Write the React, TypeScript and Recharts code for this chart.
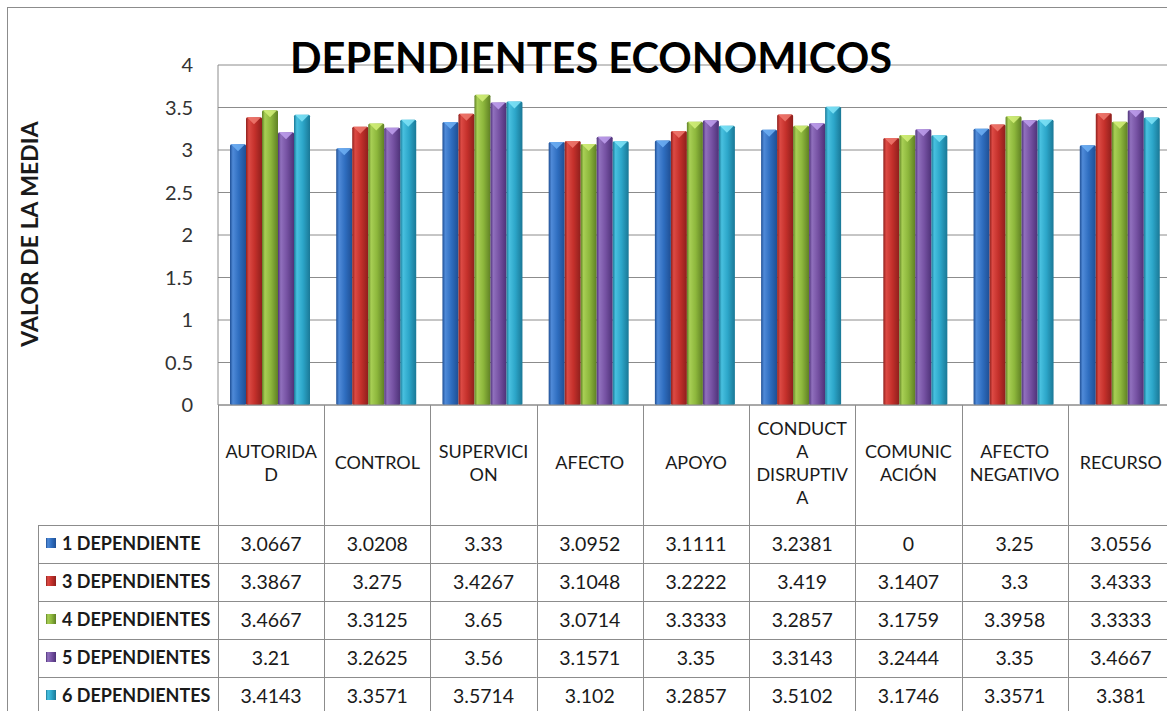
import React from 'react';
import { BarChart, Bar, XAxis, YAxis, CartesianGrid } from 'recharts';

const categories = [
  'AUTORIDAD',
  'CONTROL',
  'SUPERVICION',
  'AFECTO',
  'APOYO',
  'CONDUCTA DISRUPTIVA',
  'COMUNICACIÓN',
  'AFECTO NEGATIVO',
  'RECURSO',
];

// header cell text, wrapped the way the table shows it
const categoryLines = [
  ['AUTORIDA', 'D'],
  ['CONTROL'],
  ['SUPERVICI', 'ON'],
  ['AFECTO'],
  ['APOYO'],
  ['CONDUCT', 'A', 'DISRUPTIV', 'A'],
  ['COMUNIC', 'ACIÓN'],
  ['AFECTO', 'NEGATIVO'],
  ['RECURSO'],
];

const seriesNames = ['1 DEPENDIENTE', '3 DEPENDIENTES', '4 DEPENDIENTES', '5 DEPENDIENTES', '6 DEPENDIENTES'];

const dep1 = [3.0667, 3.0208, 3.33, 3.0952, 3.1111, 3.2381, 0, 3.25, 3.0556];
const dep3 = [3.3867, 3.275, 3.4267, 3.1048, 3.2222, 3.419, 3.1407, 3.3, 3.4333];
const dep4 = [3.4667, 3.3125, 3.65, 3.0714, 3.3333, 3.2857, 3.1759, 3.3958, 3.3333];
const dep5 = [3.21, 3.2625, 3.56, 3.1571, 3.35, 3.3143, 3.2444, 3.35, 3.4667];
const dep6 = [3.4143, 3.3571, 3.5714, 3.102, 3.2857, 3.5102, 3.1746, 3.3571, 3.381];

const yTicks = [0, 0.5, 1, 1.5, 2, 2.5, 3, 3.5, 4];

const allSeries = [dep1, dep3, dep4, dep5, dep6];
const keys = ['d1', 'd3', 'd4', 'd5', 'd6'];

const data = categories.map((name, i) => {
  const row: any = { name };
  keys.forEach((k, s) => (row[k] = allSeries[s][i]));
  return row;
});

// colours: [dark edge, body, highlight, cap]
const palette = [
  ['#1f4f94', '#2f6ec0', '#4f8ad8', '#6fb0f5'],
  ['#8e1f1c', '#c4302b', '#dc4a44', '#f07a70'],
  ['#5f8024', '#8db73c', '#a8cf55', '#d4f07a'],
  ['#4e3278', '#7652a3', '#9070bd', '#c0a0ef'],
  ['#1a7896', '#2ca6c9', '#48c0df', '#80e4f8'],
];

const W = 1176;
const H = 711;
const TOP = 65;
const LEFT = 218;
const X_AXIS_H = 306;
const PLOT_W = W - LEFT - 2;
const BAND = PLOT_W / categories.length;
const PLOT_BOTTOM = H - X_AXIS_H;
const HEADER_H = 120;
const ROW_H = 38;
const LEGEND_LEFT = 38;
const LINE = '#8c8c8c';
const FONT = 'Lato, "Open Sans", sans-serif';

const makeShape = (s: number) => (props: any) => {
  const { x, y, width, height } = props;
  if (!height || height <= 0) return <g />;
  const cap = Math.min(7, height);
  return (
    <g>
      <rect x={x} y={y} width={width} height={height} fill={`url(#grad${s})`} rx={1.5} />
      <polygon
        points={`${x + 1},${y} ${x + width - 1},${y} ${x + width / 2},${y + cap}`}
        fill={palette[s][3]}
        opacity={0.85}
      />
    </g>
  );
};

const TableColumn = (props: any) => {
  const { x, payload } = props;
  const i = props.index ?? payload.index;
  const left = x - BAND / 2;
  const right = x + BAND / 2;
  const tableBottom = PLOT_BOTTOM + HEADER_H + ROW_H * seriesNames.length;
  const lines = categoryLines[i];
  const lh = 23;
  const headMid = PLOT_BOTTOM + 58;
  const firstY = headMid - ((lines.length - 1) * lh) / 2;
  return (
    <g fontFamily={FONT}>
      {i === 0 && (
        <g>
          <line x1={Math.round(left) + 0.5} x2={Math.round(left) + 0.5} y1={PLOT_BOTTOM} y2={tableBottom} stroke={LINE} />
          <line x1={LEGEND_LEFT + 0.5} x2={LEGEND_LEFT + 0.5} y1={PLOT_BOTTOM + HEADER_H} y2={tableBottom} stroke={LINE} />
          {seriesNames.map((n, s) => {
            const ry = PLOT_BOTTOM + HEADER_H + s * ROW_H;
            return (
              <g key={n}>
                <line x1={LEGEND_LEFT} x2={left} y1={ry + 0.5} y2={ry + 0.5} stroke={LINE} />
                <rect x={46} y={ry + ROW_H / 2 - 6} width={10} height={10} fill={`url(#grad${s})`} />
                <text x={62} y={ry + ROW_H / 2} dy="0.35em" fontSize={18} fontWeight="bold" fill="#1a1a1a">
                  {n}
                </text>
              </g>
            );
          })}
        </g>
      )}
      <line x1={Math.round(right) + 0.5} x2={Math.round(right) + 0.5} y1={PLOT_BOTTOM} y2={tableBottom} stroke={LINE} />
      {lines.map((t, k) => (
        <text key={k} x={x} y={firstY + k * lh} dy="0.35em" textAnchor="middle" fontSize={18} fill="#1a1a1a">
          {t}
        </text>
      ))}
      {allSeries.map((vals, s) => {
        const ry = PLOT_BOTTOM + HEADER_H + s * ROW_H;
        return (
          <g key={s}>
            <line x1={left} x2={right} y1={ry + 0.5} y2={ry + 0.5} stroke={LINE} />
            <text x={x} y={ry + ROW_H / 2} dy="0.35em" textAnchor="middle" fontSize={19.5} fill="#1a1a1a">
              {String(vals[i])}
            </text>
          </g>
        );
      })}
    </g>
  );
};

export default function App() {
  return (
    <div style={{ position: 'fixed', left: 0, top: 0, width: 1167, height: 711, overflow: 'hidden', background: '#fff' }}>
      <svg width={0} height={0} style={{ position: 'absolute' }}>
        <defs>
          {palette.map((c, s) => (
            <linearGradient key={s} id={`grad${s}`} x1="0" y1="0" x2="1" y2="0">
              <stop offset="0%" stopColor={c[0]} />
              <stop offset="18%" stopColor={c[2]} />
              <stop offset="55%" stopColor={c[1]} />
              <stop offset="100%" stopColor={c[0]} />
            </linearGradient>
          ))}
        </defs>
      </svg>
      <div
        style={{
          position: 'absolute',
          left: 7,
          top: 7,
          width: 1200,
          height: 800,
          borderLeft: `1px solid ${LINE}`,
          borderTop: `1px solid ${LINE}`,
        }}
      />
      <div style={{ position: 'absolute', left: 0, top: 0 }}>
        <BarChart
          width={W}
          height={H}
          data={data}
          margin={{ top: TOP, right: 2, left: 0, bottom: 0 }}
          barCategoryGap="11.3%"
          barGap={0}
        >
          <CartesianGrid vertical={false} stroke={LINE} strokeDasharray="" />
          <YAxis
            width={LEFT}
            domain={[0, 4]}
            ticks={yTicks}
            tickLine={false}
            tickSize={0}
            tickMargin={25}
            axisLine={{ stroke: LINE }}
            tick={{ fontSize: 20, fill: '#333', fontFamily: FONT }}
          />
          <XAxis
            dataKey="name"
            height={X_AXIS_H}
            interval={0}
            tickLine={false}
            tickSize={0}
            tickMargin={0}
            axisLine={{ stroke: LINE }}
            tick={<TableColumn />}
          />
          {keys.map((k, s) => (
            <Bar key={k} dataKey={k} name={seriesNames[s]} fill={palette[s][1]} shape={makeShape(s)} isAnimationActive={false} />
          ))}
        </BarChart>
      </div>
      <svg width={1167} height={711} style={{ position: 'absolute', left: 0, top: 0, pointerEvents: 'none' }}>
        <text x={591} y={73} textAnchor="middle" fontSize={41.5} fontWeight="bold" fontFamily={FONT} fill="#000">
          DEPENDIENTES ECONOMICOS
        </text>
        <text
          transform="translate(38,234) rotate(-90)"
          textAnchor="middle"
          fontSize={23}
          fontWeight="bold"
          fontFamily={FONT}
          fill="#1a1a1a"
        >
          VALOR DE LA MEDIA
        </text>
      </svg>
    </div>
  );
}
